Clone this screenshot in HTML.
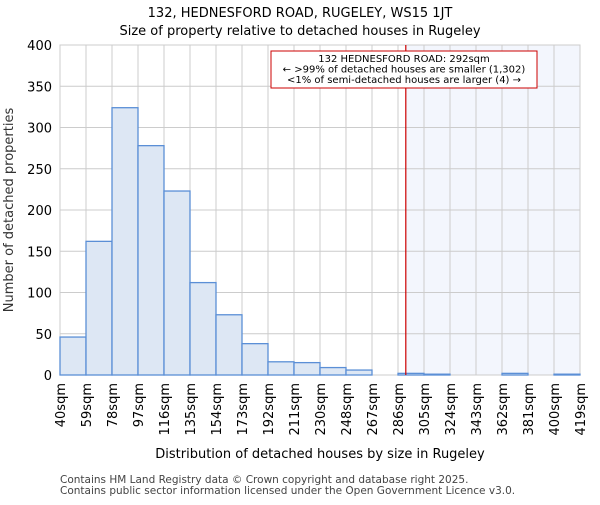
<!DOCTYPE html>
<html><head><meta charset="utf-8"><style>body{margin:0;background:#fff}text{font-family:"DejaVu Sans","Liberation Sans",sans-serif}</style></head>
<body>
<svg id="c" width="600" height="500" xmlns="http://www.w3.org/2000/svg"></svg>
<script>
const labels=["40sqm","59sqm","78sqm","97sqm","116sqm","135sqm","154sqm","173sqm","192sqm","211sqm","230sqm","248sqm","267sqm","286sqm","305sqm","324sqm","343sqm","362sqm","381sqm","400sqm","419sqm"];
const counts=[46,162,324,278,223,112,73,38,16,15,9,6,0,2,1,0,0,2,0,1];
const yTicks=[0,50,100,150,200,250,300,350,400];
const markerBin=13.3;
const L=60,R=580,T=45,B=375,n=counts.length;
const xs=i=>L+(R-L)*i/n, ys=v=>B-(B-T)*v/400;
const svg=document.getElementById('c');const NS='http://www.w3.org/2000/svg';
function el(t,a,p){const e=document.createElementNS(NS,t);for(const k in a)e.setAttribute(k,a[k]);(p||svg).appendChild(e);return e;}
let t=el('text',{x:300,y:17,'text-anchor':'middle','font-size':13});t.textContent="132, HEDNESFORD ROAD, RUGELEY, WS15 1JT";

t=el('text',{x:300,y:35,'text-anchor':'middle','font-size':13});t.textContent="Size of property relative to detached houses in Rugeley";

const mx=xs(markerBin);
let sh=el('rect',{x:mx,y:T,width:R-mx,height:B-T,fill:'#f3f6fd'});

yTicks.forEach(v=>{el('line',{x1:L,x2:R,y1:ys(v),y2:ys(v),stroke:'#cccccc'});
 const tt=el('text',{x:L-8,y:ys(v)+5,'text-anchor':'end','font-size':13});tt.textContent=v;
 });
labels.forEach((s,i)=>{el('line',{x1:xs(i),x2:xs(i),y1:T,y2:B,stroke:'#cccccc'});
 const tt=el('text',{transform:`translate(${xs(i)+5},${B+8}) rotate(-90)`,'text-anchor':'end','font-size':13});tt.textContent=s;
 });
el('rect',{x:L,y:T,width:R-L,height:B-T,fill:'none',stroke:'#cccccc'});
counts.forEach((v,i)=>{if(v<=0)return;const r=el('rect',{x:xs(i),y:ys(v),width:xs(1)-xs(0),height:B-ys(v),fill:'#dde7f4',stroke:'#5b8fd6','stroke-width':1.3});
 });
const ml=el('line',{x1:mx,x2:mx,y1:T,y2:B,stroke:'#cc0000','stroke-width':1.2});

const g=el('g',{});
el('rect',{x:271,y:51,width:266,height:37,fill:'#fff',stroke:'#cc0000'},g);
["132 HEDNESFORD ROAD: 292sqm","← >99% of detached houses are smaller (1,302)","<1% of semi-detached houses are larger (4) →"].forEach((s,i)=>{const a=el('text',{x:404,y:62+i*10.5,'text-anchor':'middle','font-size':10},g);a.textContent=s;});
t=el('text',{transform:'translate(13,210) rotate(-90)','text-anchor':'middle','font-size':13,fill:'#333'});t.textContent="Number of detached properties";

t=el('text',{x:320,y:458,'text-anchor':'middle','font-size':13});t.textContent="Distribution of detached houses by size in Rugeley";

t=el('text',{x:60,y:483,'font-size':10.5,fill:'#444'});t.textContent="Contains HM Land Registry data © Crown copyright and database right 2025.";

t=el('text',{x:60,y:494,'font-size':10.5,fill:'#444'});t.textContent="Contains public sector information licensed under the Open Government Licence v3.0.";

</script>
</body></html>
